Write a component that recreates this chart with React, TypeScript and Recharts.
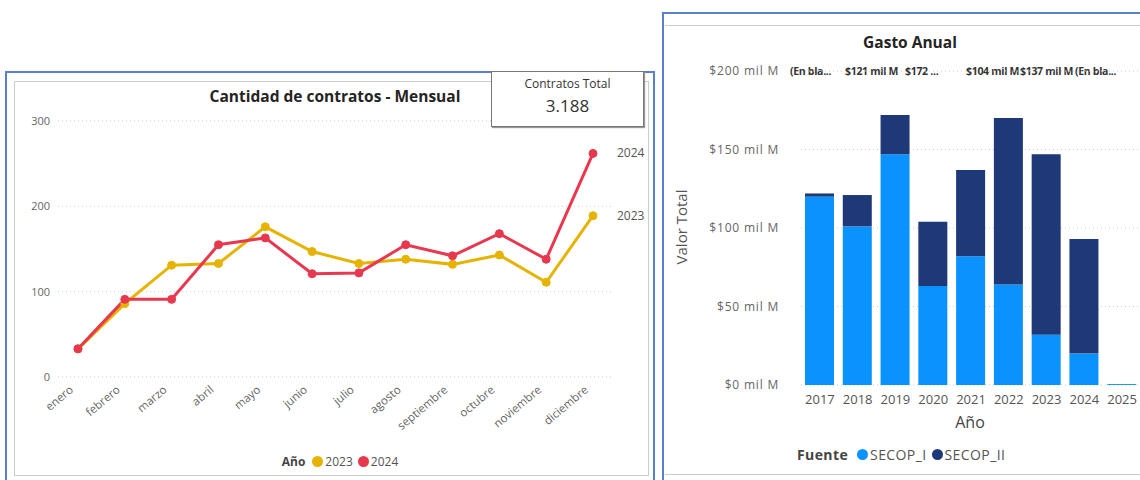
import { Bar, BarChart, CartesianGrid, Line, LineChart, XAxis, YAxis } from "recharts";

const MONTHS = [
  "enero", "febrero", "marzo", "abril", "mayo", "junio",
  "julio", "agosto", "septiembre", "octubre", "noviembre", "diciembre",
];
const CONTRACTS_2023 = [33, 86, 131, 133, 176, 147, 133, 138, 132, 143, 111, 189];
const CONTRACTS_2024 = [33, 91, 91, 155, 163, 121, 122, 155, 142, 168, 138, 262];
const CONTRACT_TICKS = [0, 100, 200, 300];
const CONTRACTS_TOTAL = "3.188";

const YEARS = ["2017", "2018", "2019", "2020", "2021", "2022", "2023", "2024", "2025"];
const SECOP_I = [120, 101, 147, 63, 82, 64, 32, 20, 0.6];
const SECOP_II = [2, 20, 25, 41, 55, 106, 115, 73, 0];
const SPEND_TICKS = [0, 50, 100, 150, 200];
// Power BI total labels, overlapping/truncated as they appear in the report
const TOTAL_LABELS = ["(En bla...", "$121 mil M", "$172 ...", "$104 mil M", "$137 mil M", "(En bla..."];
const TOTAL_LABEL_X = [790, 845, 905, 966, 1020, 1075];

const YELLOW = "#E6B400";
const RED = "#E8384F";
const LIGHT_BLUE = "#0A93FF";
const NAVY = "#1E3878";
const FONT = "'Segoe UI', 'Open Sans', sans-serif";

const monthly = MONTHS.map((m, i) => ({ month: m, y2023: CONTRACTS_2023[i], y2024: CONTRACTS_2024[i] }));
const annual = YEARS.map((y, i) => ({ year: y, secop1: SECOP_I[i], secop2: SECOP_II[i] }));

function EndLabel(name: string) {
  return (props: any) => {
    if (props.index !== MONTHS.length - 1) return null;
    return (
      <text x={props.x + 24} y={props.y} dy={4} fontSize={12} fill="#555" fontFamily={FONT}>
        {name}
      </text>
    );
  };
}

function MonthTick({ x, y, payload }: any) {
  return (
    <g transform={`translate(${x - 4},${y + 6})`}>
      <text transform="rotate(-40)" textAnchor="end" fontSize={11.5} fill="#666" fontFamily={FONT}>
        {payload.value}
      </text>
    </g>
  );
}

function Dot({ color, label }: { color: string; label: string }) {
  return (
    <span style={{ display: "inline-flex", alignItems: "center", marginLeft: 5 }}>
      <span style={{ width: 11, height: 11, borderRadius: 6, background: color, marginRight: 2 }} />
      {label}
    </span>
  );
}

export default function App() {
  return (
    <div style={{ position: "fixed", left: 0, top: 0, width: 1140, height: 480, overflow: "hidden", background: "#fff", fontFamily: FONT }}>
      {/* Left panel frame */}
      <div style={{ position: "absolute", left: 5, top: 71, width: 650, height: 420, border: "2px solid #5B7FD0", boxSizing: "border-box" }} />
      <div style={{ position: "absolute", left: 14, top: 81, width: 635, height: 395, border: "1px solid #ccc", boxSizing: "border-box" }} />
      <div style={{ position: "absolute", left: 0, top: 85, width: 670, textAlign: "center", fontWeight: 700, fontSize: 15.5, color: "#252423" }}>
        Cantidad de contratos - Mensual
      </div>

      <div style={{ position: "absolute", left: 0, top: 0 }}>
        <LineChart width={660} height={480} data={monthly} margin={{ top: 121, right: 48, bottom: 43, left: 0 }}>
          <CartesianGrid vertical={false} stroke="#ccc" strokeDasharray="1 3" />
          <XAxis
            dataKey="month"
            axisLine={false}
            tickLine={false}
            interval={0}
            height={60}
            padding={{ left: 20, right: 19 }}
            tick={<MonthTick />}
          />
          <YAxis
            domain={[0, 300]}
            ticks={CONTRACT_TICKS}
            width={58}
            axisLine={false}
            tickLine={false}
            tick={{ fontSize: 11, fill: "#666", fontFamily: FONT }}
          />
          <Line
            dataKey="y2023"
            stroke={YELLOW}
            strokeWidth={3}
            dot={{ r: 4, fill: YELLOW, stroke: YELLOW, strokeWidth: 1 }}
            label={EndLabel("2023")}
            isAnimationActive={false}
          />
          <Line
            dataKey="y2024"
            stroke={RED}
            strokeWidth={3}
            dot={{ r: 4, fill: RED, stroke: RED, strokeWidth: 1 }}
            label={EndLabel("2024")}
            isAnimationActive={false}
          />
        </LineChart>
      </div>

      {/* KPI card */}
      <div style={{ position: "absolute", left: 491, top: 71, width: 153, height: 56, background: "#fff", border: "1px solid #777", boxShadow: "1px 1px 1px #999", boxSizing: "border-box", textAlign: "center", color: "#333" }}>
        <div style={{ fontSize: 12, marginTop: 3 }}>Contratos Total</div>
        <div style={{ fontSize: 17, marginTop: 2 }}>{CONTRACTS_TOTAL}</div>
      </div>

      <div style={{ position: "absolute", left: 0, top: 453, width: 680, textAlign: "center", fontSize: 12, color: "#555", display: "flex", justifyContent: "center", alignItems: "center" }}>
        <span style={{ fontWeight: 700, color: "#444", marginRight: 2 }}>Año</span>
        <Dot color={YELLOW} label="2023" />
        <Dot color={RED} label="2024" />
      </div>

      {/* Right panel frame */}
      <div style={{ position: "absolute", left: 662, top: 12, width: 500, height: 480, border: "2px solid #5B7FD0", boxSizing: "border-box" }} />
      <div style={{ position: "absolute", left: 665, top: 25, width: 480, height: 450, borderTop: "1px solid #ccc", borderBottom: "1px solid #ccc", boxSizing: "border-box" }} />
      <div style={{ position: "absolute", left: 810, top: 31, width: 200, textAlign: "center", fontWeight: 700, fontSize: 15.5, color: "#252423" }}>
        Gasto Anual
      </div>
      {TOTAL_LABELS.map((t, i) => (
        <div key={i} style={{ position: "absolute", left: TOTAL_LABEL_X[i], top: 64, fontSize: 10.5, fontWeight: 700, color: "#333", whiteSpace: "nowrap", letterSpacing: -0.3 }}>
          {t}
        </div>
      ))}
      <div style={{ position: "absolute", left: 631, top: 217, width: 100, textAlign: "center", transform: "rotate(-90deg)", fontSize: 15, color: "#555" }}>
        Valor Total
      </div>

      <div style={{ position: "absolute", left: 662, top: 0 }}>
        <BarChart width={490} height={480} data={annual} margin={{ top: 71, right: 11, bottom: 65, left: 0 }} barSize={29}>
          <CartesianGrid vertical={false} stroke="#ccc" strokeDasharray="1 3" />
          <XAxis
            dataKey="year"
            axisLine={false}
            tickLine={false}
            interval={0}
            height={30}
            tick={{ fontSize: 13, fill: "#555", fontFamily: FONT }}
            tickMargin={4}
          />
          <YAxis
            domain={[0, 200]}
            ticks={SPEND_TICKS}
            width={139}
            axisLine={false}
            tickLine={false}
            tickMargin={16}
            tickFormatter={(v) => `$${v} mil M`}
            tick={{ fontSize: 12, fill: "#666", fontFamily: FONT, letterSpacing: 0.8 }}
          />
          <Bar dataKey="secop1" stackId="a" fill={LIGHT_BLUE} isAnimationActive={false} />
          <Bar dataKey="secop2" stackId="a" fill={NAVY} isAnimationActive={false} />
        </BarChart>
      </div>

      <div style={{ position: "absolute", left: 920, top: 411, width: 100, textAlign: "center", fontSize: 16, color: "#444" }}>
        Año
      </div>
      <div style={{ position: "absolute", left: 797, top: 445, fontSize: 14, color: "#555", display: "flex", alignItems: "center", letterSpacing: 0.4 }}>
        <span style={{ fontWeight: 700, color: "#444", marginRight: 4 }}>Fuente</span>
        <Dot color={LIGHT_BLUE} label="SECOP_I" />
        <Dot color={NAVY} label="SECOP_II" />
      </div>
    </div>
  );
}
